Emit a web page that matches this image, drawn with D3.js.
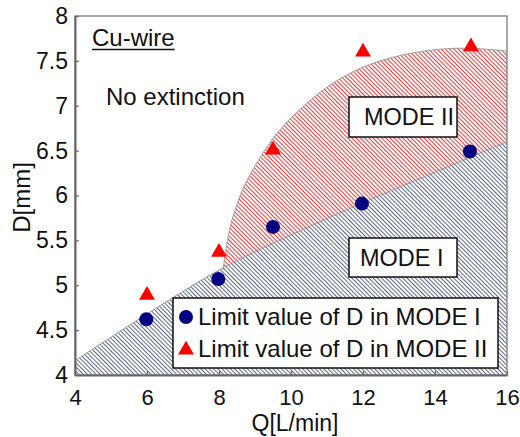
<!DOCTYPE html>
<html>
<head>
<meta charset="utf-8">
<script src="https://cdn.jsdelivr.net/npm/d3@7"></script>
<style>
  body { margin: 0; background: #fff; }
  svg text { font-family: "Liberation Sans", Arial, sans-serif; font-size: 24px; fill: #111; }
</style>
</head>
<body>
<svg id="chart" width="520" height="437"></svg>
<script>
(function() {

  // measured data
  var modeIQ = [5.98, 7.98, 9.5, 11.97, 14.97],
      modeID = [4.62, 5.07, 5.65, 5.91, 6.49];

  var modeIIQ = [6.0, 8.0, 9.5, 12.0, 15.0],
      modeIID = [4.90, 5.38, 6.52, 7.61, 7.67];

  // boundary between MODE I and MODE II
  var lowerQ = [4, 6, 8, 10, 12, 14, 16],
      lowerD = [4.16, 4.68, 5.17, 5.56, 5.92, 6.26, 6.60];

  // upper boundary of MODE II
  var upperQ = [8.12, 8.31, 8.58, 8.86, 9.28, 9.69, 10.25, 11.08, 12.0, 13.03, 14.14, 14.97, 16],
      upperD = [5.20, 5.65, 5.99, 6.23, 6.51, 6.73, 6.96, 7.23, 7.43, 7.56, 7.63, 7.64, 7.61];

  var xTicks = [4, 6, 8, 10, 12, 14, 16],
      yTicks = [4, 4.5, 5, 5.5, 6, 6.5, 7, 7.5, 8];

  var legendLabels = ["Limit value of D in MODE I", "Limit value of D in MODE II"];

  var margin = {top: 16, right: 13, bottom: 62, left: 75},
      width = 520 - margin.left - margin.right,
      height = 437 - margin.top - margin.bottom;

  var svg = d3.select("#chart");

  var x = d3.scaleLinear().domain([4, 16]).range([0, width]);
  var y = d3.scaleLinear().domain([4, 8]).range([height, 0]);

  var defs = svg.append("defs");

  function hatch(id, col, sw) {
    var p = defs.append("pattern")
        .attr("id", id)
        .attr("patternUnits", "userSpaceOnUse")
        .attr("width", 6)
        .attr("height", 3)
        .attr("patternTransform", "rotate(45)");
    p.append("rect").attr("width", 6).attr("height", 3).attr("fill", "#fff");
    p.append("line")
        .attr("x1", 0).attr("x2", 6)
        .attr("y1", 1.5).attr("y2", 1.5)
        .attr("stroke", col)
        .attr("stroke-width", sw);
  }
  hatch("hatchRed", "#d84a4a", 1.1);
  hatch("hatchBlue", "#56617f", 0.95);

  defs.append("clipPath").attr("id", "plotClip")
    .append("rect").attr("width", width).attr("height", height);

  var g = svg.append("g")
      .attr("transform", "translate(" + margin.left + "," + margin.top + ")");

  var regions = g.append("g").attr("clip-path", "url(#plotClip)");

  var upperPts = upperQ.map((q, i) => [x(q), y(upperD[i])]);
  var lowerPts = lowerQ.map((q, i) => [x(q), y(lowerD[i])]);

  var curve = d3.line().curve(d3.curveCatmullRom.alpha(0.5));

  // MODE II area (lower part is covered by MODE I)
  var redPath = curve(upperPts) +
      "L" + x(16) + "," + y(4) + "L" + x(upperQ[0]) + "," + y(4) + "Z";
  regions.append("path")
      .attr("d", redPath)
      .attr("fill", "url(#hatchRed)");
  regions.append("path")
      .attr("d", curve(upperPts))
      .attr("fill", "none")
      .attr("stroke", "#8a8a8a")
      .attr("stroke-width", 0.8);

  // MODE I area
  var bluePath = curve(lowerPts) +
      "L" + x(16) + "," + y(4) + "L" + x(4) + "," + y(4) + "Z";
  regions.append("path")
      .attr("d", bluePath)
      .attr("fill", "url(#hatchBlue)");
  regions.append("path")
      .attr("d", curve(lowerPts))
      .attr("fill", "none")
      .attr("stroke", "#8a8a8a")
      .attr("stroke-width", 0.8);

  // frame
  g.append("rect")
      .attr("width", width)
      .attr("height", height)
      .attr("fill", "none")
      .attr("stroke", "#8c8c8c")
      .attr("stroke-width", 1.5);

  var xAxis = g.append("g")
      .attr("transform", "translate(0," + height + ")")
      .call(d3.axisBottom(x).tickValues(xTicks).tickSizeInner(-4).tickSizeOuter(0).tickFormat(d3.format("d")));
  xAxis.selectAll("text").attr("y", 30).attr("dy", null).style("font-size", "22px");

  var yAxis = g.append("g")
      .call(d3.axisLeft(y).tickValues(yTicks).tickSizeInner(-4).tickSizeOuter(0).tickFormat(d => d));
  yAxis.selectAll("text").attr("x", -7).style("font-size", "23px");

  [xAxis, yAxis].forEach(function(a) {
    a.select(".domain").attr("stroke", "#666").attr("stroke-width", 2);
    a.selectAll(".tick line").attr("stroke", "#666").attr("stroke-width", 1.2);
    a.selectAll("text").attr("fill", "#111");
  });

  // axis titles
  g.append("text")
      .attr("x", width / 2 + 4)
      .attr("y", height + 56)
      .attr("text-anchor", "middle")
      .style("font-size", "23px")
      .text("Q[L/min]");

  g.append("text")
      .attr("transform", "translate(" + (22 - margin.left + 8) + "," + (height / 2 + 2) + ") rotate(-90)")
      .attr("text-anchor", "middle")
      .text("D[mm]");

  // markers
  var tri = d3.symbol().type(d3.symbolTriangle).size(110);

  g.selectAll(".m1")
      .data(modeIQ)
    .enter().append("circle")
      .attr("class", "m1")
      .attr("cx", d => x(d))
      .attr("cy", (d, i) => y(modeID[i]))
      .attr("r", 7)
      .attr("fill", "#000080");

  g.selectAll(".m2")
      .data(modeIIQ)
    .enter().append("path")
      .attr("class", "m2")
      .attr("d", tri)
      .attr("transform", (d, i) => "translate(" + x(d) + "," + (y(modeIID[i]) + 1) + ")")
      .attr("fill", "#ff0000");

  // annotations
  var cu = g.append("text")
      .attr("x", 92 - margin.left)
      .attr("y", 46 - margin.top)
      .text("Cu-wire");
  var cuW = cu.node().getComputedTextLength();
  g.append("line")
      .attr("x1", 92 - margin.left)
      .attr("x2", 92 - margin.left + cuW)
      .attr("y1", 49.5 - margin.top)
      .attr("y2", 49.5 - margin.top)
      .attr("stroke", "#111")
      .attr("stroke-width", 1.5);

  g.append("text")
      .attr("x", 106 - margin.left)
      .attr("y", 105 - margin.top)
      .text("No extinction");

  function labelBox(x0, y0, w, h, tx, ty, label) {
    g.append("rect")
        .attr("x", x0 - margin.left)
        .attr("y", y0 - margin.top)
        .attr("width", w)
        .attr("height", h)
        .attr("fill", "#fff")
        .attr("stroke", "#111")
        .attr("stroke-width", 1.5);
    g.append("text")
        .attr("x", tx - margin.left)
        .attr("y", ty - margin.top)
        .style("font-size", "23.5px")
        .text(label);
  }

  labelBox(349, 97, 108, 40, 364, 125, "MODE II");
  labelBox(349, 238, 108, 39, 360, 266, "MODE I");

  // legend
  var legend = g.append("g")
      .attr("transform", "translate(" + (173 - margin.left) + "," + (298 - margin.top) + ")");

  legend.append("rect")
      .attr("width", 325)
      .attr("height", 70)
      .attr("fill", "#fff")
      .attr("stroke", "#111")
      .attr("stroke-width", 1.5);

  legend.append("circle")
      .attr("cx", 13)
      .attr("cy", 19)
      .attr("r", 7)
      .attr("fill", "#000080");

  legend.append("path")
      .attr("d", tri)
      .attr("transform", "translate(13,52)")
      .attr("fill", "#ff0000");

  legend.selectAll(".leg-text")
      .data(legendLabels)
    .enter().append("text")
      .attr("class", "leg-text")
      .attr("x", 25)
      .attr("y", (d, i) => 27 + i * 32)
      .text(d => d);

})();
</script>
</body>
</html>
